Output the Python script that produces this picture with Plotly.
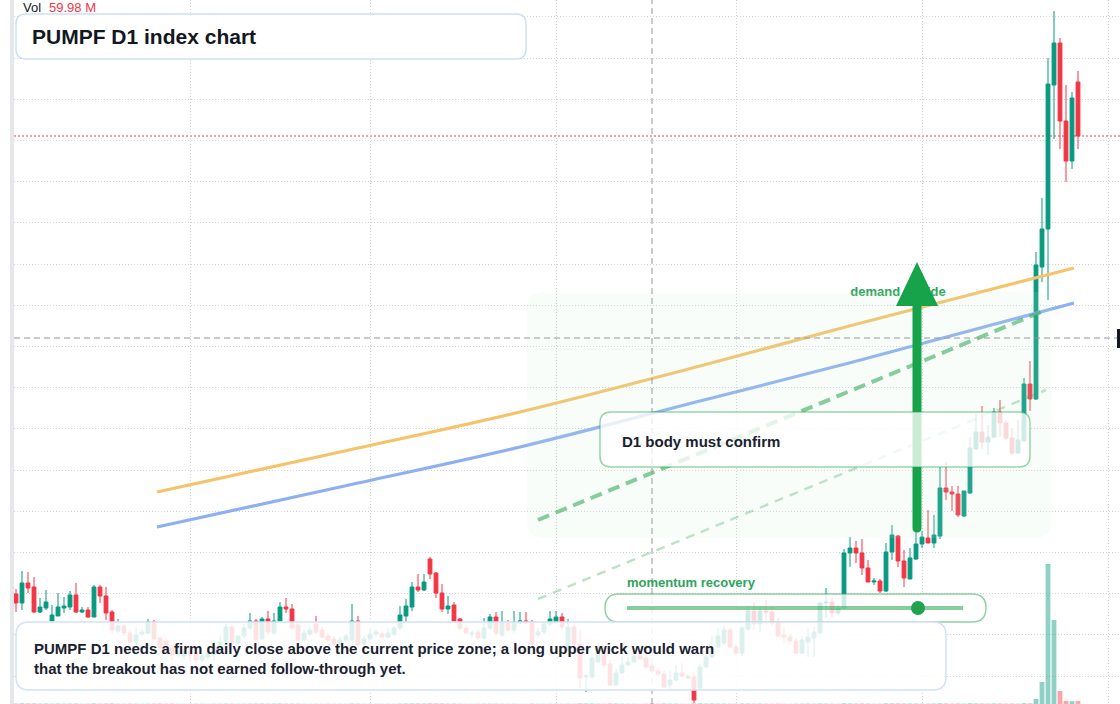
import plotly.graph_objects as go
import pandas as pd

W, H = 1120, 704

# ---------------- data ----------------
start_date = "2024-08-03"
dates = pd.date_range(start_date, periods=178, freq="D")

opens = [
    2.10, 2.01, 2.21, 2.17, 1.92, 1.96, 1.83, 1.88, 1.96, 1.97,
    2.09, 1.92, 1.94, 1.87, 2.17, 2.08, 1.92, 1.73, 1.78, 1.71,
    1.62, 1.70, 1.71, 1.82, 1.66, 1.63, 1.56, 1.49, 1.48, 1.52,
    1.51, 1.44, 1.47, 1.49, 1.56, 1.62, 1.77, 1.61, 1.68, 1.76,
    1.83, 1.65, 1.85, 1.71, 1.83, 1.97, 1.95, 1.79, 1.64, 1.70,
    1.80, 1.74, 1.68, 1.65, 1.61, 1.64, 1.64, 1.83, 1.60, 1.65,
    1.70, 1.70, 1.67, 1.70, 1.76, 1.88, 1.97, 2.17, 2.14, 2.45,
    2.31, 2.11, 1.95, 1.99, 1.85, 1.76, 1.70, 1.72, 1.66, 1.76,
    1.87, 1.69, 1.81, 1.74, 1.82, 1.83, 1.82, 1.69, 1.72, 1.80,
    1.82, 1.87, 1.54, 1.77, 1.60, 1.27, 1.27, 1.42, 1.54, 1.40,
    1.19, 1.31, 1.39, 1.42, 1.48, 1.46, 1.38, 1.33, 1.30, 1.19,
    1.24, 1.31, 1.28, 1.27, 1.16, 1.37, 1.47, 1.57, 1.61, 1.74,
    1.57, 1.51, 1.75, 1.93, 1.80, 1.93, 1.92, 1.81, 1.69, 1.67,
    1.63, 1.51, 1.62, 1.66, 1.71, 2.01, 2.02, 1.91, 1.96, 2.51,
    2.56, 2.51, 2.36, 2.22, 2.23, 2.13, 2.52, 2.68, 2.43, 2.25,
    2.45, 2.60, 2.66, 2.61, 2.68, 3.16, 3.12, 3.10, 2.88, 3.11,
    3.55, 3.72, 3.62, 3.67, 3.92, 3.81, 3.66, 3.51, 3.63, 4.20,
    4.05, 5.37, 5.75, 7.19, 7.61, 6.83, 6.43, 7.22,
]
highs = [
    2.15, 2.33, 2.32, 2.27, 2.06, 2.14, 1.99, 2.11, 2.07, 2.13,
    2.21, 1.97, 1.97, 2.19, 2.19, 2.17, 1.94, 1.85, 1.80, 1.74,
    1.77, 1.75, 1.85, 1.84, 1.68, 1.66, 1.59, 1.56, 1.55, 1.58,
    1.54, 1.51, 1.54, 1.64, 1.68, 1.80, 1.79, 1.66, 1.80, 1.91,
    1.85, 1.87, 1.93, 1.91, 2.02, 2.06, 2.00, 1.82, 1.74, 1.77,
    1.88, 1.77, 1.71, 1.68, 1.67, 1.70, 2.00, 1.88, 1.68, 1.76,
    1.75, 1.73, 1.76, 1.78, 1.98, 2.05, 2.22, 2.30, 2.30, 2.47,
    2.32, 2.20, 2.08, 2.02, 1.86, 1.79, 1.74, 1.75, 1.86, 1.90,
    1.92, 1.93, 1.84, 1.93, 1.92, 1.92, 1.84, 1.76, 1.82, 1.93,
    1.93, 1.91, 1.85, 1.79, 1.74, 1.30, 1.49, 1.61, 1.58, 1.44,
    1.35, 1.47, 1.47, 1.54, 1.54, 1.52, 1.41, 1.36, 1.34, 1.34,
    1.39, 1.41, 1.30, 1.32, 1.40, 1.49, 1.68, 1.76, 1.79, 1.76,
    1.60, 1.78, 1.97, 2.01, 1.97, 2.04, 1.97, 1.86, 1.77, 1.70,
    1.66, 1.68, 1.76, 1.77, 2.02, 2.16, 2.06, 1.99, 2.55, 2.67,
    2.63, 2.65, 2.44, 2.26, 2.25, 2.61, 2.79, 2.69, 2.54, 2.56,
    2.72, 2.73, 2.94, 2.89, 3.37, 3.42, 3.18, 3.18, 3.13, 3.67,
    3.90, 3.98, 3.79, 3.96, 4.04, 3.84, 3.76, 3.84, 4.26, 4.43,
    5.52, 6.06, 7.46, 7.93, 7.66, 7.19, 7.12, 7.33,
]
lows = [
    1.92, 1.94, 2.11, 1.91, 1.91, 1.94, 1.83, 1.88, 1.91, 1.94,
    1.91, 1.91, 1.86, 1.87, 2.01, 1.84, 1.71, 1.71, 1.68, 1.60,
    1.59, 1.68, 1.70, 1.64, 1.52, 1.54, 1.44, 1.46, 1.44, 1.42,
    1.41, 1.42, 1.44, 1.44, 1.54, 1.61, 1.59, 1.59, 1.66, 1.74,
    1.62, 1.64, 1.70, 1.69, 1.82, 1.91, 1.74, 1.62, 1.62, 1.68,
    1.70, 1.65, 1.62, 1.58, 1.59, 1.62, 1.63, 1.56, 1.58, 1.63,
    1.68, 1.66, 1.65, 1.68, 1.74, 1.82, 1.93, 2.12, 2.13, 2.25,
    2.06, 1.92, 1.90, 1.82, 1.74, 1.70, 1.66, 1.64, 1.64, 1.74,
    1.68, 1.67, 1.72, 1.71, 1.80, 1.80, 1.58, 1.66, 1.70, 1.78,
    1.80, 1.74, 1.52, 1.58, 1.16, 1.12, 1.25, 1.41, 1.37, 1.18,
    1.18, 1.30, 1.38, 1.41, 1.44, 1.35, 1.32, 1.28, 1.16, 1.14,
    1.23, 1.27, 1.25, 1.01, 1.14, 1.36, 1.46, 1.56, 1.59, 1.56,
    1.50, 1.48, 1.73, 1.74, 1.72, 1.79, 1.78, 1.67, 1.61, 1.60,
    1.50, 1.50, 1.47, 1.47, 1.70, 1.86, 1.87, 1.89, 1.95, 2.37,
    2.41, 2.29, 2.22, 2.19, 2.11, 2.12, 2.44, 2.37, 2.17, 2.25,
    2.44, 2.56, 2.61, 2.56, 2.65, 3.04, 2.93, 2.87, 2.87, 3.10,
    3.54, 3.55, 3.49, 3.66, 3.67, 3.64, 3.49, 3.50, 3.63, 3.93,
    4.04, 5.22, 5.04, 6.65, 6.55, 6.22, 6.35, 6.55,
]
closes = [
    2.01, 2.21, 2.16, 1.92, 1.97, 2.02, 1.89, 1.97, 1.98, 2.09,
    1.92, 1.94, 1.87, 2.17, 2.08, 1.91, 1.74, 1.78, 1.71, 1.62,
    1.69, 1.72, 1.82, 1.65, 1.56, 1.57, 1.49, 1.52, 1.52, 1.49,
    1.44, 1.48, 1.51, 1.56, 1.62, 1.77, 1.61, 1.68, 1.76, 1.83,
    1.64, 1.85, 1.72, 1.83, 1.97, 1.95, 1.76, 1.64, 1.71, 1.74,
    1.72, 1.67, 1.64, 1.60, 1.64, 1.68, 1.83, 1.59, 1.65, 1.70,
    1.72, 1.67, 1.71, 1.76, 1.89, 1.98, 2.17, 2.14, 2.22, 2.30,
    2.11, 1.95, 1.98, 1.83, 1.76, 1.71, 1.71, 1.66, 1.76, 1.87,
    1.71, 1.81, 1.74, 1.82, 1.83, 1.82, 1.60, 1.72, 1.80, 1.85,
    1.87, 1.77, 1.77, 1.60, 1.26, 1.28, 1.46, 1.57, 1.39, 1.19,
    1.31, 1.39, 1.42, 1.48, 1.45, 1.37, 1.33, 1.30, 1.17, 1.24,
    1.31, 1.28, 1.26, 1.04, 1.37, 1.47, 1.57, 1.68, 1.74, 1.57,
    1.51, 1.76, 1.93, 1.80, 1.93, 1.92, 1.81, 1.68, 1.67, 1.63,
    1.51, 1.64, 1.67, 1.72, 2.01, 2.02, 1.91, 1.96, 2.51, 2.56,
    2.51, 2.36, 2.22, 2.23, 2.13, 2.52, 2.69, 2.43, 2.26, 2.46,
    2.60, 2.67, 2.61, 2.69, 3.16, 3.12, 3.10, 2.89, 3.13, 3.56,
    3.72, 3.62, 3.67, 3.92, 3.81, 3.66, 3.51, 3.64, 4.20, 4.05,
    5.39, 5.75, 7.20, 7.61, 6.83, 6.43, 7.06, 6.68,
]
volumes_m = [
    38, 52, 41, 47, 33, 36, 29, 34, 27, 31,
    40, 22, 26, 44, 30, 35, 39, 24, 21, 28,
    25, 18, 27, 30, 33, 24, 29, 19, 17, 22,
    25, 20, 18, 23, 26, 31, 28, 19, 24, 29,
    30, 33, 27, 28, 36, 25, 30, 27, 20, 18,
    22, 19, 21, 20, 17, 18, 34, 29, 21, 19,
    16, 18, 20, 19, 31, 35, 44, 38, 36, 48,
    42, 37, 28, 33, 24, 19, 17, 21, 26, 27,
    25, 24, 20, 22, 16, 15, 27, 20, 19, 22,
    21, 23, 26, 24, 45, 38, 33, 30, 28, 41,
    34, 27, 22, 20, 19, 26, 59.98, 23, 37, 31,
    28, 21, 18, 52, 46, 33, 35, 31, 29, 27,
    24, 37, 35, 30, 32, 26, 23, 29, 22, 19,
    27, 30, 28, 25, 41, 33, 26, 21, 58, 44,
    36, 39, 33, 22, 27, 49, 47, 43, 40, 38,
    36, 31, 29, 34, 57, 42, 30, 35, 33, 55,
    46, 40, 32, 44, 39, 31, 35, 30, 60, 50,
    426, 1875, 11932, 7159, 1108, 260, 240, 250,
]

# overlay guide lines (dates / prices)
trend_dates = ["2024-08-26 12:00", "2024-09-26", "2024-10-26",
               "2024-11-25", "2024-12-20 12:00", "2025-01-26 08:00"]
trend_upper = [3.12, 3.52, 3.92, 4.38, 4.79, 5.36]
trend_lower = [2.77, 3.17, 3.57, 4.03, 4.42, 5.01]
guide_dates = ["2024-10-29", "2025-01-21 16:00"]
guide_main = [2.84, 4.94]
guide_faint = [2.05, 4.14]
label_date = ["2024-12-28"]
label_price = [5.11]
crosshair_date = "2024-11-17"
crosshair_price = 4.66
vol_label = "59.98 M"

UP = "#089981"
DOWN = "#f23645"
FONT = "Liberation Sans"


def px(x):
    return x / W


def py(y):
    return 1 - y / H


def P(x, y):
    return f"{px(x):.6f},{py(y):.6f}"


def rounded(x0, y0, x1, y1, r):
    return (f"M {P(x0 + r, y0)} L {P(x1 - r, y0)} Q {P(x1, y0)} {P(x1, y0 + r)} "
            f"L {P(x1, y1 - r)} Q {P(x1, y1)} {P(x1 - r, y1)} L {P(x0 + r, y1)} "
            f"Q {P(x0, y1)} {P(x0, y1 - r)} L {P(x0, y0 + r)} Q {P(x0, y0)} {P(x0 + r, y0)} Z")


fig = go.Figure()

vol_colors = ["rgba(8,153,129,0.45)" if c >= o else "rgba(242,54,69,0.45)"
              for o, c in zip(opens, closes)]
fig.add_trace(go.Bar(x=dates, y=volumes_m, yaxis="y2", width=0.8 * 86400000,
                     marker=dict(color=vol_colors, line=dict(width=0)),
                     hoverinfo="skip"))

fig.add_trace(go.Scatter(x=trend_dates, y=trend_upper, mode="lines",
                         line=dict(color="#f5c36a", width=3.2, shape="spline"),
                         hoverinfo="skip"))
fig.add_trace(go.Scatter(x=trend_dates, y=trend_lower, mode="lines",
                         line=dict(color="#8db0f3", width=3.2, shape="spline"),
                         hoverinfo="skip"))
fig.add_trace(go.Scatter(x=guide_dates, y=guide_main, mode="lines",
                         line=dict(color="rgba(34,163,74,0.6)", width=4, dash="12px,7px"),
                         hoverinfo="skip"))
fig.add_trace(go.Scatter(x=guide_dates, y=guide_faint, mode="lines",
                         line=dict(color="rgba(34,163,74,0.3)", width=2.5, dash="9px,7px"),
                         hoverinfo="skip"))

fig.add_trace(go.Candlestick(
    x=dates, open=opens, high=highs, low=lows, close=closes,
    increasing=dict(line=dict(color=UP, width=1), fillcolor=UP),
    decreasing=dict(line=dict(color=DOWN, width=1), fillcolor=DOWN),
    whiskerwidth=0, hoverinfo="skip"))

fig.add_trace(go.Scatter(x=label_date, y=label_price, mode="text",
                         text=["<b>demand upside</b>"], textposition="middle center",
                         textfont=dict(color="#2ca55a", size=13, family=FONT),
                         hoverinfo="skip"))

shapes = []
# demand zone
shapes.append(dict(type="path", path=rounded(527, 292, 1052, 538, 18),
                   xref="paper", yref="paper", fillcolor="rgba(200,238,212,0.13)",
                   line=dict(width=0), layer="above"))
# last price line
shapes.append(dict(type="line", xref="paper", yref="y", x0=px(14), x1=1,
                   y0=closes[-1], y1=closes[-1],
                   line=dict(color=DOWN, width=1, dash="2px,2px"), layer="between"))
# crosshair
shapes.append(dict(type="line", xref="x", yref="paper", x0=crosshair_date, x1=crosshair_date,
                   y0=0, y1=1, line=dict(color="#9598a1", width=1, dash="6px,4px"),
                   layer="above"))
shapes.append(dict(type="line", xref="paper", yref="y", x0=px(14), x1=1,
                   y0=crosshair_price, y1=crosshair_price,
                   line=dict(color="#9598a1", width=1, dash="6px,4px"), layer="above"))
# arrow
shaft = (f"M {P(912.5, 304)} L {P(921.5, 304)} L {P(921.5, 528)} "
         f"Q {P(921.5, 532.5)} {P(917, 532.5)} Q {P(912.5, 532.5)} {P(912.5, 528)} Z")
shapes.append(dict(type="path", path=shaft, xref="paper", yref="paper",
                   fillcolor="#16a34a", line=dict(width=0), layer="above"))
head = f"M {P(896, 306)} L {P(938, 306)} L {P(917, 262)} Z"
shapes.append(dict(type="path", path=head, xref="paper", yref="paper",
                   fillcolor="#16a34a", line=dict(width=0), layer="above"))
# D1 box
shapes.append(dict(type="path", path=rounded(600, 412, 1030, 467, 11),
                   xref="paper", yref="paper", fillcolor="rgba(255,255,255,0.78)",
                   line=dict(color="rgba(34,163,74,0.45)", width=1.5), layer="above"))
# momentum box
shapes.append(dict(type="path", path=rounded(605, 594, 986, 622, 14),
                   xref="paper", yref="paper", fillcolor="rgba(255,255,255,0.8)",
                   line=dict(color="rgba(34,163,74,0.5)", width=1.5), layer="above"))
shapes.append(dict(type="line", xref="paper", yref="paper", x0=px(627), x1=px(963),
                   y0=py(608), y1=py(608),
                   line=dict(color="rgba(34,163,74,0.55)", width=4), layer="above"))
shapes.append(dict(type="circle", xref="paper", yref="paper", x0=px(911), x1=px(925),
                   y0=py(601), y1=py(615), fillcolor="#1fa34e", line=dict(width=0),
                   layer="above"))
# note box
shapes.append(dict(type="path", path=rounded(16, 622, 946, 690, 13),
                   xref="paper", yref="paper", fillcolor="rgba(255,255,255,0.86)",
                   line=dict(color="#d3e2f6", width=1.5), layer="above"))
# title box
shapes.append(dict(type="path", path=rounded(16, 14, 526, 59, 10),
                   xref="paper", yref="paper", fillcolor="rgba(255,255,255,0.92)",
                   line=dict(color="#cddff5", width=1.5), layer="above"))
# left strip and right price-label edge
shapes.append(dict(type="rect", xref="paper", yref="paper", x0=px(10), x1=px(14),
                   y0=0, y1=1, fillcolor="#e6e7ea", line=dict(width=0), layer="above"))
shapes.append(dict(type="rect", xref="paper", yref="paper", x0=px(1117), x1=1,
                   y0=py(348), y1=py(329), fillcolor="#131722", line=dict(width=0),
                   layer="above"))

annotations = []


def note(x, y, text, size, color, bold=True):
    annotations.append(dict(
        xref="paper", yref="paper", x=px(x), y=py(y), xanchor="left", yanchor="middle",
        text=(f"<b>{text}</b>" if bold else text), showarrow=False, align="left",
        borderpad=0, borderwidth=0,
        font=dict(family=FONT, size=size, color=color)))


note(23, 8, "Vol", 13, "#131722", bold=False)
note(49, 8, vol_label, 13, DOWN, bold=False)
note(32, 36, "PUMPF D1 index chart", 21, "#131722")
note(34, 658, "PUMPF D1 needs a firm daily close above the current price zone; a long upper wick would warn"
     "<br>that the breakout has not earned follow-through yet.", 15, "#1a2130")
note(622, 441, "D1 body must confirm", 15, "#1a2130")
note(627, 582, "momentum recovery", 13, "#2ca55a")

grid_color = "#d0d3da"
fig.update_layout(
    width=W, height=H, margin=dict(l=0, r=0, t=0, b=0),
    paper_bgcolor="white", plot_bgcolor="white",
    showlegend=False, hovermode=False,
    font=dict(family=FONT),
    boxgap=0.2, boxgroupgap=0.2,
    shapes=shapes, annotations=annotations,
    xaxis=dict(type="date", domain=[px(14), 1],
               range=["2024-08-02 16:00", "2025-02-03 00:00"],
               showgrid=True, gridcolor=grid_color, gridwidth=1, griddash="1px,2px",
               dtick="M1", tick0="2024-09-01", showticklabels=False, ticks="",
               zeroline=False, showline=False, rangeslider=dict(visible=False),
               fixedrange=True),
    yaxis=dict(range=[1.0, 8.04], tick0=1.28, dtick=0.412,
               showgrid=True, gridcolor=grid_color, gridwidth=1, griddash="1px,2px",
               showticklabels=False, ticks="", zeroline=False, showline=False,
               fixedrange=True),
    yaxis2=dict(overlaying="y", range=[0, 60000], visible=False, showgrid=False,
                fixedrange=True),
)

fig.write_html("out.html", config={"displayModeBar": False},
               post_script="document.body.style.margin='0px';")
